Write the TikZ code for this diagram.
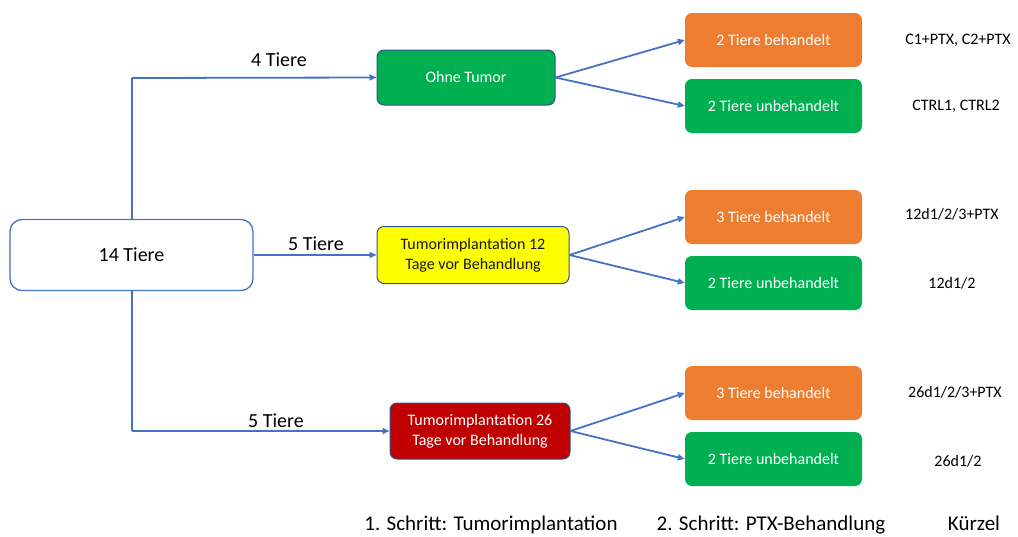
\documentclass[tikz,border=0pt]{standalone}
\usepackage{fontspec}
\setmainfont{Carlito}
\usetikzlibrary{arrows.meta}
\definecolor{arrowblue}{HTML}{4472C4}
\definecolor{boxborder}{HTML}{2F528F}
\definecolor{okgreen}{HTML}{00B050}
\definecolor{okorange}{HTML}{ED7D31}
\definecolor{okred}{HTML}{C00000}
\definecolor{okyellow}{HTML}{FFFF00}
\tikzset{
  conn/.style={draw=arrowblue, line width=1.8pt, -{Triangle[length=7pt,width=6pt]}},
  conntwo/.style={draw=arrowblue, line width=1.8pt},
  basebox/.style={rounded corners=7pt, inner sep=0pt, align=center, font=\fontsize{16}{20}\selectfont},
  stepbox/.style={basebox, draw=boxborder, line width=1pt, minimum height=55pt},
  resbox/.style={basebox, minimum width=177pt, minimum height=54pt, text=white},
  lbl/.style={font=\fontsize{20}{24}\selectfont},
  code/.style={font=\fontsize{16}{20}\selectfont},
  foot/.style={font=\fontsize{21}{25}\selectfont, anchor=base},
}
\begin{document}
\begin{tikzpicture}[x=1pt,y=-1pt]
\useasboundingbox (0,0) rectangle (1018,536);
% start
\node[basebox, draw=arrowblue, line width=1.3pt, rounded corners=12pt, minimum width=243pt, minimum height=71pt, font=\fontsize{20}{24}\selectfont] (start) at (131.5,255) {14 Tiere};
% step 1 boxes
\node[stepbox, fill=okgreen, text=white, minimum width=178pt] (ohne) at (466,77.5) {Ohne Tumor};
\node[stepbox, fill=okyellow, text=black!90, minimum width=192pt, minimum height=57pt] (t12) at (473,255) {Tumorimplantation 12\\Tage vor Behandlung};
\node[stepbox, fill=okred, text=white, minimum width=180pt, minimum height=56pt] (t26) at (480,431) {Tumorimplantation 26\\Tage vor Behandlung};
% results
\node[resbox, fill=okorange] (b1) at (773.5,40) {2 Tiere behandelt};
\node[resbox, fill=okgreen] (u1) at (773.5,106) {2 Tiere unbehandelt};
\node[resbox, fill=okorange] (b2) at (773.5,217) {3 Tiere behandelt};
\node[resbox, fill=okgreen] (u2) at (773.5,283) {2 Tiere unbehandelt};
\node[resbox, fill=okorange] (b3) at (773.5,393) {3 Tiere behandelt};
\node[resbox, fill=okgreen] (u3) at (773.5,459) {2 Tiere unbehandelt};
% codes
\node[code] (c1) at (958,40) {C1+PTX, C2+PTX};
\node[code] (c2) at (956,106) {CTRL1, CTRL2};
\node[code] (c3) at (952,214) {12d1/2/3+PTX};
\node[code] (c4) at (952,283) {12d1/2};
\node[code] (c5) at (955,392) {26d1/2/3+PTX};
\node[code] (c6) at (958,461) {26d1/2};
% connectors from start
\coordinate (k1) at (132,78);
\coordinate (k2) at (132,431);
\draw[conntwo] (start.north -| k1) -- (k1);
\draw[conn] (k1) -- (ohne.west);
\draw[conn] (start.east) -- (t12.west);
\draw[conntwo] (start.south -| k2) -- (k2);
\draw[conn] (k2) -- (t26.west);
\node[lbl] (l1) at (279,60) {4 Tiere};
\node[lbl] (l2) at (316,244) {5 Tiere};
\node[lbl] (l3) at (276,421) {5 Tiere};
% branches
\draw[conn] (ohne.east) -- (b1.west);
\draw[conn] (ohne.east) -- (u1.west);
\draw[conn] (t12.east) -- (b2.west);
\draw[conn] (t12.east) -- (u2.west);
\draw[conn] (t26.east) -- (b3.west);
\draw[conn] (t26.east) -- (u3.west);
% footer
\node[foot] (f1) at (491,530) {1. Schritt: Tumorimplantation};
\node[foot] (f2) at (771,530) {2. Schritt: PTX-Behandlung};
\node[foot] (f3) at (974,530) {Kürzel};
\end{tikzpicture}
\end{document}
